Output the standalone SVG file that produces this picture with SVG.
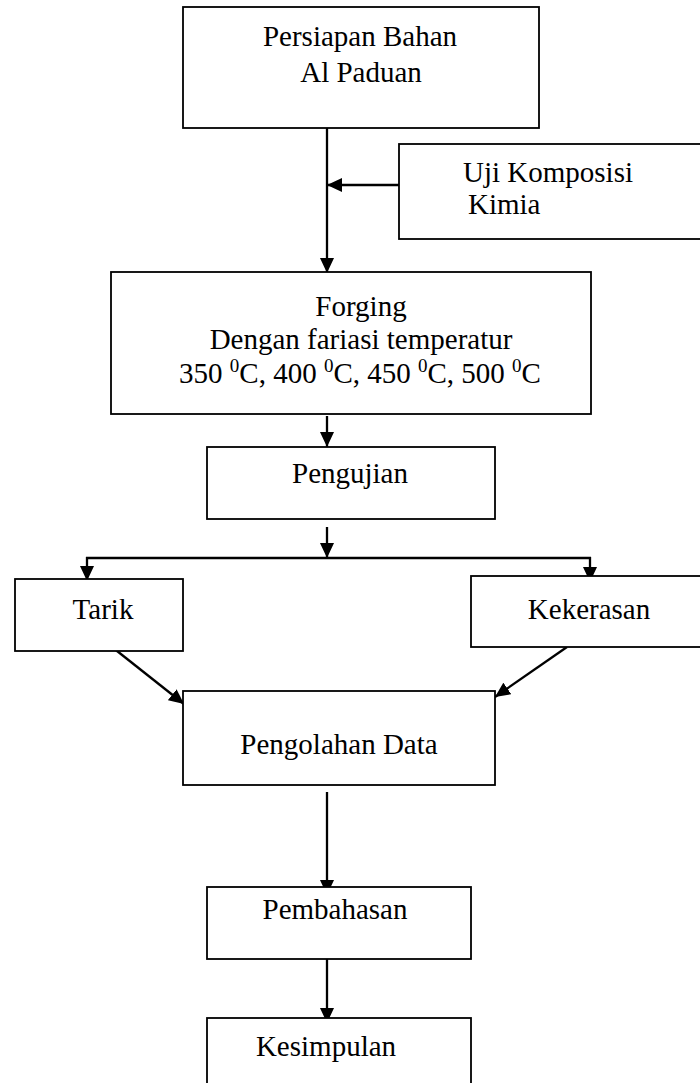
<svg xmlns="http://www.w3.org/2000/svg" width="700" height="1083" viewBox="0 0 700 1083">
<style>
.box{fill:#fff;stroke:#000;stroke-width:1.8}
.t{font-family:"Liberation Serif","Times New Roman",serif;font-size:29px;fill:#000}
.c{text-anchor:middle}
.ln{stroke:#000;stroke-width:2.3;fill:none}
.ar{marker-end:url(#ah)}
</style>
<defs>
<marker id="ah" viewBox="0 0 15 14" refX="15" refY="7" markerWidth="15" markerHeight="14" markerUnits="userSpaceOnUse" orient="auto">
<path d="M0,0 L15,7 L0,14 z" fill="#000"/>
</marker>
</defs>
<rect width="700" height="1083" fill="#fff"/>
<g id="connectors">
<line class="ln ar" x1="327" y1="128" x2="327" y2="273"/>
<line class="ln ar" x1="399" y1="185" x2="327" y2="185"/>
<line class="ln ar" x1="327" y1="416" x2="327" y2="447"/>
<line class="ln ar" x1="327" y1="527" x2="327" y2="558"/>
<line class="ln" x1="86" y1="558" x2="591" y2="558"/>
<line class="ln ar" x1="87" y1="557" x2="87" y2="581"/>
<line class="ln ar" x1="590" y1="557" x2="590" y2="582"/>
<line class="ln ar" x1="112" y1="647" x2="184" y2="704"/>
<line class="ln ar" x1="567" y1="647" x2="495" y2="697"/>
<line class="ln ar" x1="327" y1="792" x2="327" y2="895"/>
<line class="ln ar" x1="327" y1="959" x2="327" y2="1023"/>
</g>
<g id="persiapan">
<rect class="box" x="183" y="7" width="356" height="121"/>
<text class="t c" x="360" y="46">Persiapan Bahan</text>
<text class="t c" x="361" y="82">Al Paduan</text>
</g>
<g id="uji">
<rect class="box" x="399" y="144" width="320" height="95"/>
<text class="t" x="463" y="182">Uji Komposisi</text>
<text class="t" x="468" y="214">Kimia</text>
</g>
<g id="forging">
<rect class="box" x="111" y="272" width="480" height="142"/>
<text class="t c" x="361" y="316">Forging</text>
<text class="t c" x="361" y="349">Dengan fariasi temperatur</text>
<text class="t c" x="360" y="383">350 <tspan font-size="19" dy="-11">0</tspan><tspan dy="11">C, 400 </tspan><tspan font-size="19" dy="-11">0</tspan><tspan dy="11">C, 450 </tspan><tspan font-size="19" dy="-11">0</tspan><tspan dy="11">C, 500 </tspan><tspan font-size="19" dy="-11">0</tspan><tspan dy="11">C</tspan></text>
</g>
<g id="pengujian">
<rect class="box" x="207" y="447" width="288" height="72"/>
<text class="t c" x="350" y="483">Pengujian</text>
</g>
<g id="tarik">
<rect class="box" x="15" y="579" width="168" height="72"/>
<text class="t c" x="103" y="619">Tarik</text>
</g>
<g id="kekerasan">
<rect class="box" x="471" y="576" width="240" height="71"/>
<text class="t c" x="589" y="619">Kekerasan</text>
</g>
<g id="pengolahan">
<rect class="box" x="183" y="691" width="312" height="94"/>
<text class="t c" x="339" y="754">Pengolahan Data</text>
</g>
<g id="pembahasan">
<rect class="box" x="207" y="887" width="264" height="72"/>
<text class="t c" x="335" y="919">Pembahasan</text>
</g>
<g id="kesimpulan">
<rect class="box" x="207" y="1018" width="264" height="80"/>
<text class="t c" x="326" y="1056">Kesimpulan</text>
</g>
</svg>
